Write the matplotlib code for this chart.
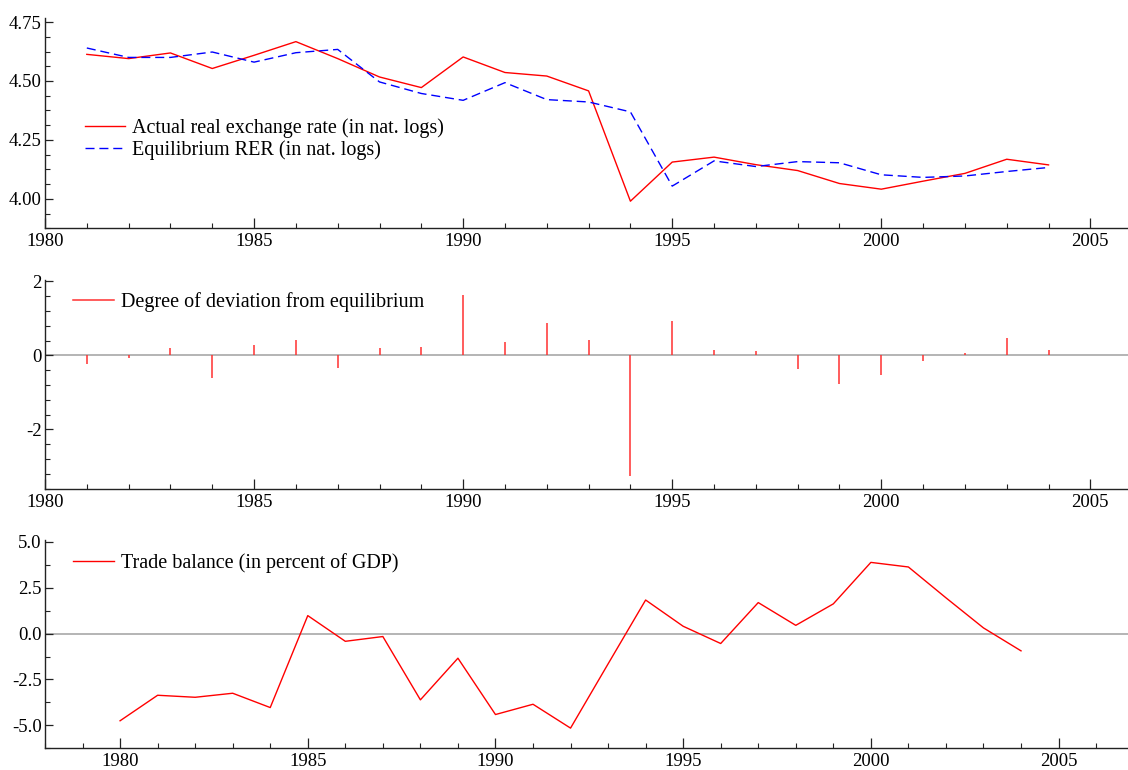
import matplotlib
matplotlib.use("Agg")
import matplotlib.pyplot as plt
from matplotlib.ticker import MultipleLocator, FormatStrFormatter

plt.rcParams['font.family'] = ['Liberation Serif', 'DejaVu Serif']
plt.rcParams['axes.unicode_minus'] = False

# ---- data ----
years_rer = list(range(1981, 2005))
actual_rer = [4.613, 4.595, 4.619, 4.553, 4.609, 4.667, 4.595, 4.517, 4.472, 4.602,
              4.536, 4.521, 4.458, 3.990, 4.156, 4.177, 4.145, 4.120, 4.065, 4.041,
              4.075, 4.108, 4.168, 4.144]
equil_rer = [4.640, 4.600, 4.600, 4.623, 4.580, 4.620, 4.634, 4.496, 4.447, 4.418,
             4.493, 4.421, 4.411, 4.369, 4.054, 4.161, 4.137, 4.158, 4.153, 4.102,
             4.091, 4.097, 4.116, 4.133]
deviation = [-0.24, -0.07, 0.19, -0.62, 0.28, 0.42, -0.34, 0.20, 0.22, 1.63,
             0.36, 0.89, 0.42, -3.25, 0.94, 0.16, 0.12, -0.36, -0.76, -0.52,
             -0.14, 0.08, 0.47, 0.14]
years_tb = list(range(1980, 2005))
trade_balance = [-4.75, -3.36, -3.47, -3.25, -4.03, 0.98, -0.42, -0.16, -3.61, -1.34,
                 -4.41, -3.85, -5.15, -1.65, 1.83, 0.40, -0.54, 1.69, 0.45, 1.62,
                 3.88, 3.63, 1.95, 0.31, -0.94]

label_actual = "Actual real exchange rate (in nat. logs)"
label_equil = "Equilibrium RER (in nat. logs)"
label_dev = "Degree of deviation from equilibrium"
label_tb = "Trade balance (in percent of GDP)"

W, H = 1128, 770
fig = plt.figure(figsize=(W / 100, H / 100), dpi=100)

def px_axes(top, bottom):
    left = 45 / W
    return fig.add_axes([left, (H - bottom) / H, 1 - left, (bottom - top) / H])

ax1 = px_axes(18.3, 228.3)
ax2 = px_axes(280, 488.7)
ax3 = px_axes(540, 748.3)

spine_col = '#222222'
for ax in (ax1, ax2, ax3):
    for s in ('top', 'right'):
        ax.spines[s].set_visible(False)
    for s in ('left', 'bottom'):
        ax.spines[s].set_color(spine_col)
        ax.spines[s].set_linewidth(1.0)
    ax.xaxis.set_major_locator(MultipleLocator(5))
    ax.xaxis.set_minor_locator(MultipleLocator(1))
    ax.tick_params(axis='x', which='major', direction='in', length=7.2, width=0.9,
                   color=spine_col, labelsize=13.5, pad=3.5)
    ax.tick_params(axis='x', which='minor', direction='in', length=3.8, width=0.8,
                   color=spine_col)
    ax.tick_params(axis='y', which='major', direction='in', length=5.8, width=0.9,
                   color=spine_col, labelsize=13.5, pad=2.5)
    ax.tick_params(axis='y', which='minor', direction='in', length=3.6, width=0.8,
                   color=spine_col)
    ax.set_facecolor('none')

leg_kw = dict(frameon=False, fontsize=14.5, handletextpad=0.34,
              borderpad=0, borderaxespad=0)

# top panel
ax1.plot(years_rer, actual_rer, color='#ff0000', lw=1.0, label=label_actual)
ax1.plot(years_rer, equil_rer, color='#0000ff', lw=1.0, dashes=(6.5, 3.5), label=label_equil)
ax1.set_xlim(1980, 2005.9)
ax1.set_ylim(3.875, 4.766)
ax1.yaxis.set_major_locator(MultipleLocator(0.25))
ax1.yaxis.set_minor_locator(MultipleLocator(0.0625))
ax1.yaxis.set_major_formatter(FormatStrFormatter('%.2f'))
ax1.legend(loc='upper left', bbox_to_anchor=(40 / (W - 45), 1 - (118 - 18.3) / 210),
           handlelength=2.0, labelspacing=0.12, **leg_kw)

# middle panel
ax2.axhline(0, color='#a8a8a8', lw=1.2, zorder=1)
ax2.vlines(years_rer, 0, deviation, color='#ff3030', lw=1.1, label=label_dev, zorder=2)
ax2.set_xlim(1980, 2005.9)
ax2.set_ylim(-3.6, 2.04)
ax2.yaxis.set_major_locator(MultipleLocator(2))
ax2.yaxis.set_minor_locator(MultipleLocator(0.4))
ax2.yaxis.set_major_formatter(FormatStrFormatter('%d'))
h2 = [plt.Line2D([], [], color='#ff3030', lw=1.1)]
ax2.legend(h2, [label_dev], loc='upper left',
           bbox_to_anchor=(28 / (W - 45), 1 - (292 - 280) / 208.7),
           handlelength=2.05, **leg_kw)

# bottom panel
ax3.axhline(0, color='#a8a8a8', lw=1.2, zorder=1)
ax3.plot(years_tb, trade_balance, color='#ff0000', lw=1.0, label=label_tb, zorder=2)
ax3.set_xlim(1978, 2006.85)
ax3.set_ylim(-6.25, 5.1)
ax3.yaxis.set_major_locator(MultipleLocator(2.5))
ax3.yaxis.set_minor_locator(MultipleLocator(1.25))
ax3.yaxis.set_major_formatter(FormatStrFormatter('%.1f'))
ax3.legend(loc='upper left', bbox_to_anchor=(28 / (W - 45), 1 - (553 - 540) / 208.3),
           handlelength=2.05, **leg_kw)

fig.savefig('out.png', dpi=100)
